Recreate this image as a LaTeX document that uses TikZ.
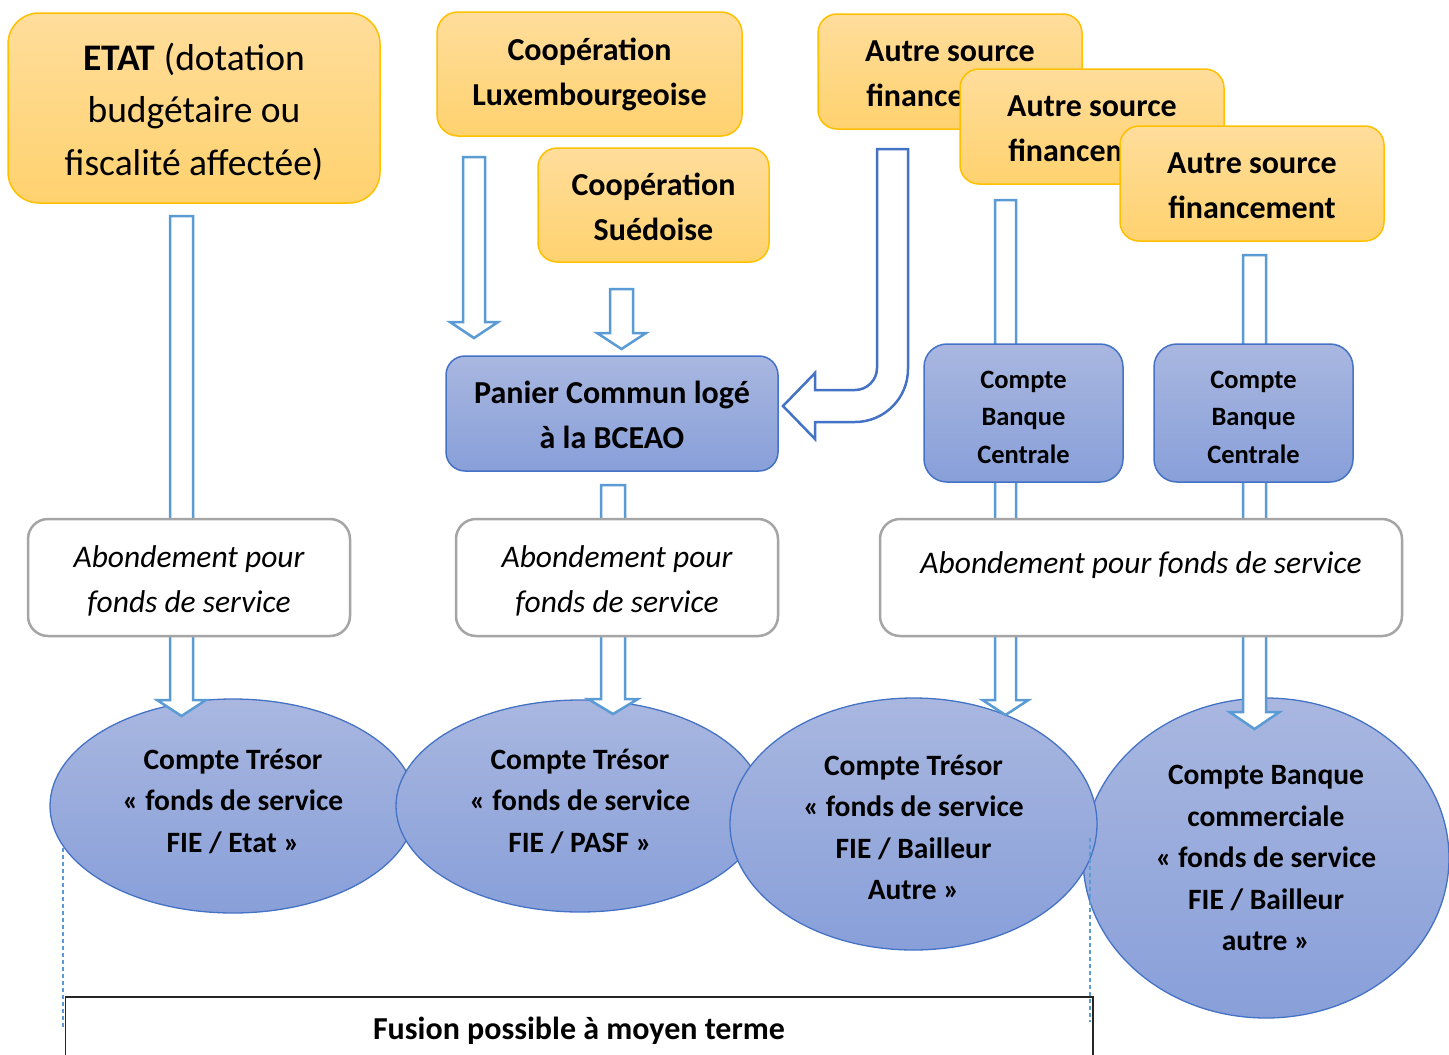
\documentclass[tikz,border=0pt]{standalone}
\usepackage{fontspec}
\setmainfont{Carlito}
\usetikzlibrary{shapes.geometric,calc}

\definecolor{goldline}{HTML}{FFC000}
\definecolor{goldtop}{HTML}{FFDD9B}
\definecolor{goldbot}{HTML}{FFD26F}
\definecolor{bluetop}{HTML}{A9B7E0}
\definecolor{bluebot}{HTML}{889FD9}
\definecolor{blueline}{HTML}{4472C4}
\definecolor{arrowline}{HTML}{5B9BD5}
\definecolor{greyline}{HTML}{A5A5A5}

\tikzset{
  source/.style={draw=goldline, line width=1.5pt, top color=goldtop, bottom color=goldbot,
    inner sep=0pt, rounded corners=19pt},
  account/.style={draw=blueline, line width=1.5pt, top color=bluetop, bottom color=bluebot,
    inner sep=0pt, rounded corners=19pt},
  fundbox/.style={draw=greyline, line width=2.5pt, fill=white, rounded corners=20pt,
    inner sep=0pt, minimum height=117pt},
  treasury/.style={ellipse, draw=blueline, line width=1.3pt, top color=bluetop, bottom color=bluebot,
    inner sep=0pt},
  boldtext/.style={align=center, inner sep=0pt, font=\fontsize{32}{45}\selectfont\bfseries},
  smalltext/.style={align=center, inner sep=0pt, font=\fontsize{26.5}{37.5}\selectfont\bfseries},
  fundtext/.style={align=center, inner sep=0pt, font=\fontsize{31.5}{45}\selectfont\itshape},
  accttext/.style={align=center, inner sep=0pt, font=\fontsize{29.5}{41.5}\selectfont\bfseries},
  hollow/.style={draw=arrowline, line width=2.5pt, fill=white, line join=miter},
  merge/.style={draw=arrowline, line width=1.2pt, dash pattern=on 4pt off 3pt},
}

% hollow block arrow pointing down: start, tip, half shaft, half head, head length
\newcommand\hollowdown[5]{%
  \draw[hollow] let \p1=(#1), \p2=(#2) in
    (\x1-#3,\y1) -- (\x1-#3,\y2+#5) -- (\x1-#4,\y2+#5) -- (\x1,\y2)
    -- (\x1+#4,\y2+#5) -- (\x1+#3,\y2+#5) -- (\x1+#3,\y1) -- cycle;}

\begin{document}
\begin{tikzpicture}[x=1pt,y=-1pt]
\useasboundingbox (0,0) rectangle (1449,1055);

% treasury / bank accounts
\node[treasury, minimum width=366pt, minimum height=214pt] (e1) at (233,806) {};
\node[accttext] (e1t) at ([yshift=5pt]e1.center) {Compte Trésor\\« fonds de service\\FIE / Etat »};
\node[treasury, minimum width=368pt, minimum height=212pt] (e2) at (580,806) {};
\node[accttext] (e2t) at ([yshift=5pt]e2.center) {Compte Trésor\\« fonds de service\\FIE / PASF »};
\node[treasury, minimum width=366pt, minimum height=320pt] (e4) at (1266,858) {};
\node[accttext] (e4t) at (e4.center) {Compte Banque\\commerciale\\« fonds de service\\FIE / Bailleur\\autre »};
\node[treasury, minimum width=367pt, minimum height=252pt] (e3) at (913.5,824) {};
\node[accttext] (e3t) at ([yshift=-3.5pt]e3.center) {Compte Trésor\\« fonds de service\\FIE / Bailleur\\Autre »};

% arrow end points
\coordinate (s1) at (181.5,216);  \coordinate (t1) at (181.5,716);
\coordinate (s2) at (474,157);    \coordinate (t2) at (474,338);
\coordinate (s3) at (621.5,289);  \coordinate (t3) at (621.5,349);
\coordinate (s4) at (613,485);    \coordinate (t4) at (613,714);
\coordinate (s5) at (1005.5,200); \coordinate (t5) at (1005.5,715);
\coordinate (s6) at (1254.5,255); \coordinate (t6) at (1254.5,729);

\hollowdown{s1}{t1}{11.5pt}{24.5pt}{16pt}
\hollowdown{s2}{t2}{11pt}{24pt}{16pt}
\hollowdown{s3}{t3}{11.5pt}{24.5pt}{16pt}
\hollowdown{s4}{t4}{12pt}{25pt}{15pt}
\hollowdown{s5}{t5}{10.5pt}{23pt}{15pt}
\hollowdown{s6}{t6}{11.5pt}{25pt}{17pt}

% bent arrow into the common basket
\draw[hollow, draw=blueline] (877,149) -- (877,368)
  .. controls (877,380.1) and (867.1,390) .. (855,390) -- (815,390) -- (815,373)
  -- (783,406) -- (815,439) -- (815,422) -- (855,422)
  .. controls (884.3,422) and (908,398.3) .. (908,369) -- (908,149) -- cycle;

% funding sources
\node[source, rounded corners=31pt, minimum width=372pt, minimum height=190pt] (etat) at (194,108) {};
\node[align=center, inner sep=0pt, font=\fontsize{37.5}{52.5}\selectfont] (etatt)
  at ([yshift=-3.5pt]etat.center) {\textbf{ETAT} (dotation\\budgétaire ou\\fiscalité affectée)};
\node[source, rounded corners=21pt, minimum width=305pt, minimum height=124pt] (lux) at (589.5,74) {};
\node[boldtext] (luxt) at (lux.center) {Coopération\\Luxembourgeoise};
\node[source, minimum width=231pt, minimum height=114pt] (sue) at (653.5,205) {};
\node[boldtext] (suet) at ([yshift=-2pt]sue.center) {Coopération\\Suédoise};
\node[source, minimum width=264pt, minimum height=115pt] (autreA) at (950,71.5) {};
\node[boldtext] (autreAt) at ([yshift=-2pt]autreA.center) {Autre source\\financement};
\node[source, minimum width=264pt, minimum height=115pt] (autreB) at (1092,126.5) {};
\node[boldtext] (autreBt) at ([yshift=-2pt]autreB.center) {Autre source\\financement};
\node[source, minimum width=264pt, minimum height=115pt] (autreC) at (1252,183.5) {};
\node[boldtext] (autreCt) at ([yshift=-2pt]autreC.center) {Autre source\\financement};

% intermediate accounts
\node[account, minimum width=332pt, minimum height=115pt] (panier) at (612,413.5) {};
\node[boldtext] (paniert) at ([yshift=-1pt]panier.center) {Panier Commun logé\\à la BCEAO};
\node[account, rounded corners=23pt, minimum width=199pt, minimum height=138pt] (bc1) at (1023.5,413) {};
\node[smalltext] (bc1t) at ([yshift=-4pt]bc1.center) {Compte\\Banque\\Centrale};
\node[account, rounded corners=23pt, minimum width=199pt, minimum height=138pt] (bc2) at (1253.5,413) {};
\node[smalltext] (bc2t) at ([yshift=-4pt]bc2.center) {Compte\\Banque\\Centrale};

% service fund top-ups
\node[fundbox, minimum width=322pt] (ab1) at (189,577.5) {};
\node[fundtext] (ab1t) at ([yshift=-3pt]ab1.center) {Abondement pour\\fonds de service};
\node[fundbox, minimum width=322pt] (ab2) at (617,577.5) {};
\node[fundtext] (ab2t) at ([yshift=-3pt]ab2.center) {Abondement pour\\fonds de service};
\node[fundbox, minimum width=522pt] (ab3) at (1141,577.5) {};
\node[fundtext] (ab3t) at (1141,565) {Abondement pour fonds de service};

% possible merger bracket
\coordinate (m1a) at (63,848);   \coordinate (m1b) at (63,1030);
\coordinate (m2a) at (1090,838); \coordinate (m2b) at (1090,1022);
\draw[merge] (m1a) -- (m1b);
\draw[merge] (m2a) -- (m2b);
\coordinate (fl) at (65.5,997); \coordinate (fr) at (1093,997);
\draw[line width=1.5pt, black!85] (65.5,1060) -- (fl) -- (fr) -- (1093,1060);
\node[boldtext] (fusion) at (579,1031) {Fusion possible à moyen terme};
\end{tikzpicture}
\end{document}
